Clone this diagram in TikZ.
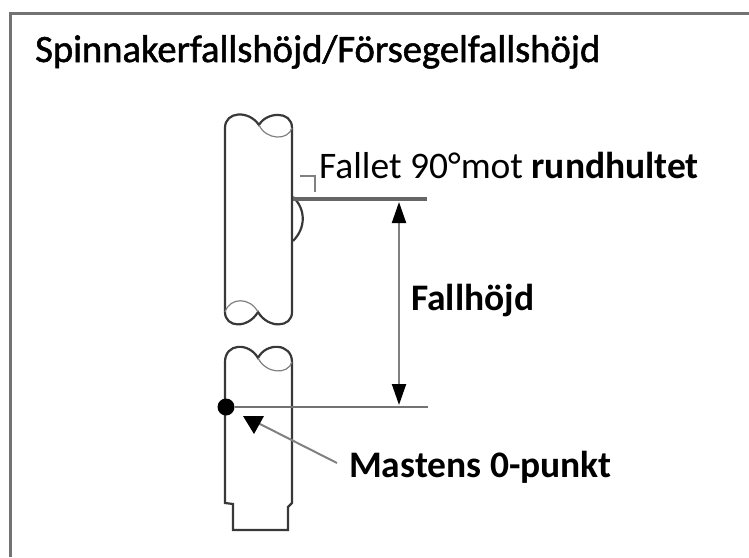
\documentclass[tikz,border=0pt]{standalone}
\usepackage{fontspec}
\setmainfont{Carlito}
\newfontfamily\titlefont[RawFeature={embolden=1.4}]{Carlito}
\usetikzlibrary{arrows.meta}
\tikzset{
  outline/.style = {line width=2.2pt, draw=black!78},
  hidden/.style = {line width=1.2pt, draw=black!50},
  thinline/.style = {line width=2pt, draw=black!55},
  label/.style = {inner sep=0pt, anchor=base west, font=\fontsize{37.5}{44}\selectfont},
  dim/.style = {line width=2pt, draw=black!50, {Triangle[length=21pt,width=14pt,color=black]}-{Triangle[length=21pt,width=14pt,color=black]}}
}
\begin{document}
\begin{tikzpicture}[x=1pt, y=-1pt]
  \useasboundingbox (0,0) rectangle (749,557);
  % frame
  \draw[line width=3pt, draw=black!55] (10,557) -- (10,13) -- (749,13);
  % texts
  \node[label, font=\fontsize{38.6}{44}\selectfont\titlefont] (title) at (35,62) {Spinnakerfallshöjd/Försegelfallshöjd};
  \node[label] (fallet) at (319,178) {Fallet 90°mot \textbf{rundhultet}};
  \node[label] (fallhojd) at (411,310) {\textbf{Fallhöjd}};
  \node[label] (nollpunkt) at (349,477) {\textbf{Mastens 0-punkt}};
  % upper mast
  \draw[outline] (225,312) -- (225,128) .. controls (225,111) and (249,110) .. (259,125)
    .. controls (266,112) and (292,110) .. (292,128) -- (292,312)
    .. controls (292,328) and (268,329) .. (258,312)
    .. controls (248,329) and (225,328) .. (225,312);
  \draw[hidden] (259,125) .. controls (266,140) and (288,141) .. (292,128);
  \draw[hidden] (225,312) .. controls (230,297) and (250,297) .. (258,312);
  % sheave
  \draw[outline] (293,197) .. controls (306,209) and (306,228) .. (293,241);
  % halyard
  \coordinate (hal0) at (293,199);
  \coordinate (hal1) at (427,199);
  \draw[line width=4pt, draw=black!60] (hal0) -- (hal1);
  % right angle mark
  \draw[hidden] (300,176) -- (315,176) -- (315,192);
  % lower mast
  \draw[outline] (225,362) .. controls (225,343) and (249,342) .. (258,358)
    .. controls (266,342) and (292,343) .. (292,362) -- (292,503) -- (288,507) -- (288,530)
    -- (233,530) -- (233,504) -- (225,503) -- cycle;
  \draw[hidden] (258,358) .. controls (266,374) and (288,375) .. (292,362);
  % zero line and point
  \coordinate (zero1) at (428,407);
  \node[circle, fill=black, minimum size=17pt, inner sep=0pt] (zero) at (226,407) {};
  \draw[thinline] (zero) -- (zero1);
  % fall height
  \coordinate (hgt0) at (399,202);
  \coordinate (hgt1) at (399,405);
  \draw[dim] (hgt0) -- (hgt1);
  % pointer
  \coordinate (ptr0) at (337,463);
  \coordinate (ptr1) at (258,423);
  \draw[line width=2pt, draw=black!50] (ptr0) -- (ptr1);
  \fill (243,416) -- (264,416) -- (254,434) -- cycle;
\end{tikzpicture}
\end{document}
